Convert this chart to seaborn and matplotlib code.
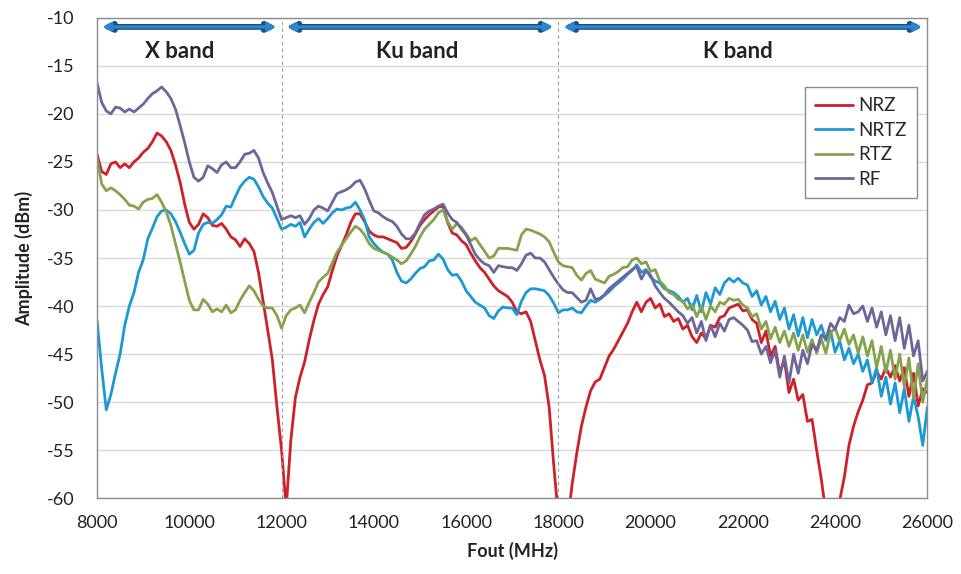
import numpy as np
import pandas as pd
import matplotlib
matplotlib.use("Agg")
import matplotlib.pyplot as plt
import seaborn as sns

# frequency grid of the readings (MHz), one value every 100 MHz
FREQ = np.arange(8000, 26001, 100)

NRZ = [
    -24.2, -26.0, -26.3, -25.2, -25.0, -25.6, -25.2, -25.6, -25.0, -24.6,
    -24.0, -23.6, -22.9, -22.0, -22.3, -22.9, -23.8, -25.3, -27.1, -29.4,
    -31.3, -32.0, -31.5, -30.4, -30.8, -31.6, -31.7, -31.4, -32.0, -32.8,
    -33.1, -33.8, -33.0, -33.5, -34.3, -36.5, -39.5, -42.5, -45.6, -50.5,
    -55.0, -61.0, -54.0, -49.5, -47.4, -45.8, -43.5, -41.5, -39.8, -38.8,
    -38.0, -36.3, -34.8, -33.7, -32.6, -31.3, -30.4, -30.4, -31.2, -32.2,
    -32.6, -32.8, -32.8, -33.0, -33.2, -33.4, -34.0, -33.9, -33.3, -32.5,
    -31.6, -31.0, -30.5, -30.1, -29.7, -29.6, -31.3, -32.4, -32.6, -33.2,
    -33.6, -34.5, -35.3, -36.0, -36.5, -37.2, -37.9, -38.4, -38.7, -39.0,
    -39.6, -40.6, -40.8, -40.6, -41.6, -43.6, -45.6, -47.2, -50.5, -56.5,
    -62.0, -64.0, -62.5, -58.5, -55.3, -52.5, -50.5, -48.8, -47.9, -47.6,
    -46.4, -45.2, -44.5, -43.6, -42.7, -41.8, -40.6, -39.6, -40.6, -39.6,
    -39.2, -40.2, -39.8, -41.1, -40.8, -41.6, -41.3, -42.4, -42.0, -43.2,
    -43.8, -42.8, -43.4, -42.0, -42.2, -41.2, -41.0, -40.2, -40.0, -39.8,
    -40.5, -40.4, -41.4, -41.8, -43.8, -42.6, -45.2, -44.2, -47.0, -45.6,
    -49.0, -47.6, -49.8, -49.2, -52.0, -51.8, -55.0, -58.0, -61.5, -65.0,
    -64.0, -60.2, -57.8, -54.5, -52.5, -51.0, -49.8, -48.2, -48.0, -46.8,
    -47.6, -46.4, -47.4, -46.2, -47.8, -46.4, -49.4, -47.0, -50.4, -48.6,
    -49.0,
]

NRTZ = [
    -41.5, -46.5, -50.8, -49.2, -47.0, -45.0, -42.0, -40.0, -38.6, -36.5,
    -35.2, -33.0, -31.9, -30.7, -30.1, -30.0, -30.4, -31.2, -32.3, -33.5,
    -34.6, -34.2, -32.4, -31.5, -31.3, -31.4, -31.0, -30.5, -29.6, -29.7,
    -28.6, -27.6, -27.0, -26.6, -26.8, -27.6, -28.6, -29.3, -29.8, -30.9,
    -32.0, -31.8, -31.5, -31.7, -31.3, -32.8, -32.0, -31.3, -30.9, -31.4,
    -30.9, -30.3, -29.9, -30.0, -29.8, -29.7, -29.2, -30.0, -31.0, -32.8,
    -33.5, -34.0, -34.4, -34.6, -35.2, -36.5, -37.4, -37.6, -37.2, -36.6,
    -36.1, -35.9, -35.3, -35.2, -34.6, -35.1, -36.2, -36.8, -36.7, -37.4,
    -38.4, -39.0, -39.6, -39.9, -40.2, -41.0, -41.3, -40.5, -40.1, -40.2,
    -40.2, -40.9, -39.5, -38.6, -38.2, -38.2, -38.3, -38.4, -38.9, -39.7,
    -40.7, -40.4, -40.4, -40.2, -40.6, -40.7, -40.0, -39.4, -39.6, -39.3,
    -38.9, -38.5, -38.0, -37.6, -37.2, -36.7, -36.3, -35.7, -36.5, -36.2,
    -37.0, -37.4, -37.6, -38.2, -38.4, -38.6, -39.0, -39.6, -39.2, -40.4,
    -38.9, -40.6, -38.6, -39.8, -38.1, -38.8, -37.6, -37.1, -37.5, -37.1,
    -37.6, -37.8, -39.0, -38.4, -39.9, -39.0, -40.6, -39.5, -41.4, -40.2,
    -42.4, -40.9, -43.1, -41.2, -43.3, -41.4, -43.0, -42.0, -43.6, -42.6,
    -44.8, -43.6, -45.6, -44.4, -46.0, -45.0, -46.8, -45.6, -48.0, -46.4,
    -49.4, -47.4, -50.2, -48.0, -51.1, -48.6, -52.0, -49.4, -51.5, -54.5,
    -50.5,
]

RTZ = [
    -24.6, -27.3, -28.0, -27.7, -28.0, -28.4, -28.9, -29.5, -29.6, -29.9,
    -29.2, -28.9, -28.8, -28.4, -29.2, -30.2, -31.6, -33.5, -35.4, -37.4,
    -39.4, -40.4, -40.4, -39.3, -39.8, -40.6, -40.3, -40.6, -39.9, -40.7,
    -40.4, -39.4, -38.6, -37.9, -38.4, -39.3, -40.0, -40.2, -40.2, -41.0,
    -42.3, -41.0, -40.4, -40.2, -39.9, -40.7, -39.6, -38.6, -37.5, -37.0,
    -36.6, -35.5, -34.4, -33.7, -33.0, -32.3, -31.7, -32.0, -32.6, -33.5,
    -34.0, -34.2, -34.4, -34.6, -34.9, -35.2, -35.6, -35.3, -34.6, -33.8,
    -32.8, -32.0, -31.5, -31.0, -30.3, -30.0, -31.2, -32.0, -31.4, -31.8,
    -32.5, -33.2, -32.9, -33.6, -34.3, -35.0, -34.8, -34.0, -34.0, -34.0,
    -34.1, -34.2, -32.6, -32.0, -32.1, -32.3, -32.5, -32.8, -33.3, -34.4,
    -35.4, -35.8, -35.9, -36.0, -36.8, -37.3, -36.6, -36.3, -37.2, -37.4,
    -37.6, -36.9, -36.7, -36.4, -36.0, -35.9, -35.2, -35.0, -35.6, -35.4,
    -36.4, -36.2, -37.4, -37.9, -38.6, -38.8, -39.3, -39.5, -40.3, -39.8,
    -41.1, -40.0, -41.4, -40.0, -40.6, -39.6, -39.8, -39.2, -39.4, -39.3,
    -39.9, -40.2, -41.1, -40.8, -42.4, -41.6, -43.4, -42.2, -43.8, -42.6,
    -44.2, -42.8, -44.6, -43.0, -44.8, -43.5, -44.9, -43.4, -44.9, -42.8,
    -42.3, -43.6, -42.4, -44.0, -43.0, -44.9, -43.2, -45.2, -43.6, -46.4,
    -44.2, -46.9, -44.6, -47.6, -45.0, -48.4, -45.4, -49.6, -46.0, -50.0,
    -47.5,
]

RF = [
    -16.8, -18.8, -19.7, -20.0, -19.3, -19.4, -19.8, -19.5, -19.8, -19.4,
    -19.0, -18.4, -17.9, -17.6, -17.2, -17.7, -18.4, -19.5, -21.2, -23.0,
    -25.0, -26.6, -27.0, -26.6, -25.4, -25.7, -26.1, -25.3, -25.0, -25.6,
    -25.6, -25.0, -24.2, -24.1, -23.8, -24.6, -26.1, -27.2, -28.2, -29.6,
    -31.0, -30.8, -30.6, -30.8, -30.6, -31.5, -30.9, -30.0, -29.6, -29.8,
    -30.1, -29.2, -28.3, -28.1, -27.9, -27.6, -27.1, -26.9, -27.8, -29.0,
    -30.1, -30.3, -30.7, -31.0, -31.2, -31.7, -32.5, -33.0, -33.0, -32.4,
    -31.4, -30.5, -30.1, -29.9, -29.6, -29.4, -30.3, -31.0, -31.3, -32.0,
    -32.6, -33.6, -34.6, -35.2, -35.6, -35.8, -36.5, -35.8, -35.9, -36.0,
    -36.0, -36.3, -35.6, -34.7, -34.5, -35.0, -35.0, -35.4, -36.2, -37.0,
    -37.7, -38.3, -38.6, -38.6, -39.1, -39.6, -39.4, -38.2, -39.3, -39.2,
    -38.8, -38.2, -37.8, -37.4, -37.0, -36.6, -36.2, -35.9, -37.2, -36.3,
    -36.8, -37.9, -38.6, -39.2, -39.6, -40.1, -40.6, -41.0, -41.8, -41.2,
    -42.8, -41.6, -43.6, -42.0, -43.2, -41.8, -42.6, -41.4, -41.2, -41.6,
    -42.0, -42.5, -43.7, -43.6, -45.0, -44.2, -45.9, -44.6, -47.4, -45.2,
    -48.0, -45.0, -47.0, -44.6, -46.0, -44.0, -44.6, -43.0, -43.4, -41.8,
    -42.4, -41.2, -41.6, -39.9, -40.8, -40.6, -40.0, -41.6, -40.2, -42.2,
    -40.6, -43.0, -41.0, -43.6, -41.2, -44.4, -42.0, -45.2, -43.6, -47.8,
    -46.8,
]

SERIES = ["NRZ", "NRTZ", "RTZ", "RF"]
COLORS = ["#CE2029", "#1C98D4", "#86A24C", "#6E6699"]

BANDS = ["X band", "Ku band", "K band"]
BAND_EDGES = [8000, 12000, 18000, 26000]
BAND_LABEL_X = [9800, 14950, 21900]

df = pd.DataFrame({
    "Fout (MHz)": np.tile(FREQ, len(SERIES)),
    "Amplitude (dBm)": np.concatenate([NRZ, NRTZ, RTZ, RF]),
    "series": np.repeat(SERIES, len(FREQ)),
})

sns.set_theme(style="white")
plt.rcParams["font.family"] = ["Lato", "DejaVu Sans"]
plt.rcParams["axes.unicode_minus"] = False

fig = plt.figure(figsize=(9.61, 5.74), dpi=100)
ax = fig.add_axes([0.101, 0.132, 0.864, 0.837])

sns.lineplot(data=df, x="Fout (MHz)", y="Amplitude (dBm)", hue="series",
             hue_order=SERIES, palette=COLORS, linewidth=2.0, ax=ax)

ax.set_xlim(8000, 26000)
ax.set_ylim(-60, -10)
ax.set_xticks(range(8000, 26001, 2000))
ax.set_yticks(range(-60, -9, 5))
ax.yaxis.grid(True, color="#d9d9d9", linewidth=1)
ax.xaxis.grid(False)
for s in ax.spines.values():
    s.set_color("#8c8c8c")
    s.set_linewidth(1)
ax.tick_params(axis="x", direction="in", length=5, color="#8c8c8c",
               labelsize=13, pad=12, labelcolor="#222222")
ax.tick_params(axis="y", length=0, labelsize=13, pad=16, labelcolor="#222222")
ax.set_xlabel("Fout (MHz)", fontsize=13, fontweight="bold", labelpad=8,
              color="#222222")
ax.set_ylabel("Amplitude (dBm)", fontsize=13, fontweight="bold", labelpad=10,
              color="#222222")

# band separators, arrows and labels
for edge in BAND_EDGES[1:-1]:
    ax.axvline(edge, color="#9a9a9a", linestyle=(0, (3, 3)), linewidth=0.8)
for name, lo, hi, lx in zip(BANDS, BAND_EDGES[:-1], BAND_EDGES[1:], BAND_LABEL_X):
    for col, lw in [("#1d4f7a", 4.2), ("#2a86cf", 2.4)]:
        ax.annotate("", xy=(hi - 110, -10.95), xytext=(lo + 110, -10.95),
                    arrowprops=dict(arrowstyle="<|-|>", color=col, lw=lw,
                                    shrinkA=0, shrinkB=0, mutation_scale=11))
    ax.text(lx, -13.5, name, ha="center", va="center", fontsize=16,
            fontweight="bold", color="#222222")

handles, labels = ax.get_legend_handles_labels()
ax.legend(handles, labels, loc="upper right", bbox_to_anchor=(0.988, 0.856),
          borderaxespad=0, frameon=True, fancybox=False, edgecolor="#8c8c8c",
          fontsize=13.5, labelspacing=0.4, handlelength=2.0, handletextpad=0.3,
          borderpad=0.55, framealpha=1)

fig.savefig("out.png", dpi=100, facecolor="white")
plt.close(fig)
